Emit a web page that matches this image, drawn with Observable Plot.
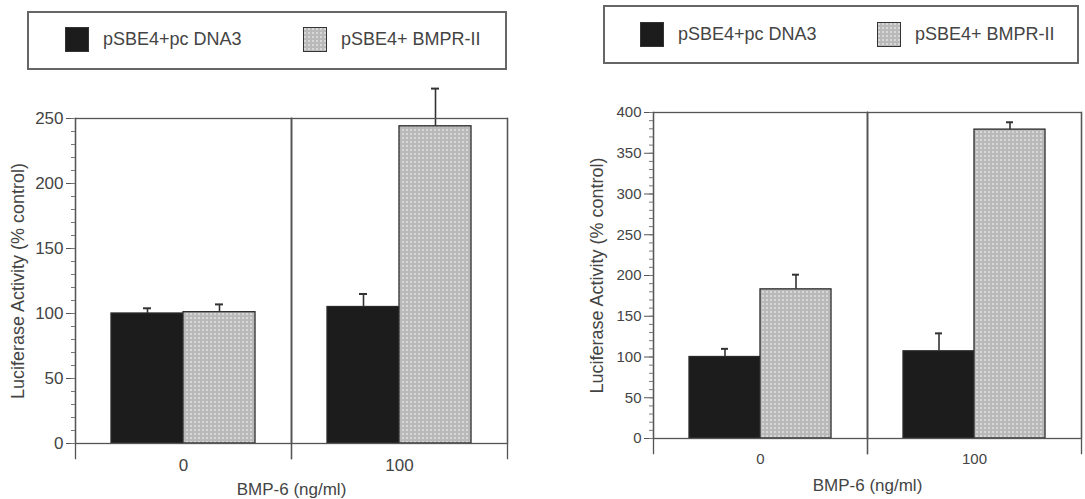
<!DOCTYPE html>
<html>
<head>
<meta charset="utf-8">
<script src="https://cdn.jsdelivr.net/npm/d3@7"></script>
<script src="https://cdn.jsdelivr.net/npm/@observablehq/plot@0.6"></script>
<style>
  body { margin: 0; background: #fff; font-family: "Liberation Sans", Arial, sans-serif; }
  #wrap { position: relative; width: 1085px; height: 499px; overflow: hidden; background: #fff; }
  .legend { position: absolute; border: 2px solid #666; box-sizing: border-box; background: #fff; }
  .item { position: absolute; display: flex; align-items: center; height: 25px; color: #444; font-size: 18px; white-space: nowrap; }
  .panel { position: absolute; }
</style>
</head>
<body>
<svg width="0" height="0" style="position:absolute">
  <defs>
    <pattern id="dots" width="4" height="4" patternUnits="userSpaceOnUse">
      <rect width="4" height="4" fill="#b9b9b9"></rect>
      <circle cx="2" cy="2" r="1" fill="#e2e2e2"></circle>
    </pattern>
  </defs>
</svg>
<div id="wrap"></div>
<script>
// ---- data ----
const doses = ["0", "100"];
const series = ["pSBE4+pc DNA3", "pSBE4+ BMPR-II"];
const seriesColors = ["#1c1c1c", "url(#dots)"];

const leftDNA3 = [100, 105];
const leftDNA3Err = [4, 10];
const leftBMPR = [101, 244];
const leftBMPRErr = [6, 29];

const rightDNA3 = [100, 107];
const rightDNA3Err = [10, 22];
const rightBMPR = [183, 379];
const rightBMPRErr = [18, 9];

const leftTicks = [0, 50, 100, 150, 200, 250];
const rightTicks = [0, 50, 100, 150, 200, 250, 300, 350, 400];
const yTitle = "Luciferase Activity (% control)";
const xTitle = "BMP-6 (ng/ml)";

function rowsFrom(a, aErr, b, bErr) {
  const rows = [];
  doses.forEach((dose, i) => {
    rows.push({dose, series: series[0], value: a[i], err: aErr[i]});
    rows.push({dose, series: series[1], value: b[i], err: bErr[i]});
  });
  return rows;
}

function panel(o) {
  const yMax = o.ticks[o.ticks.length - 1];
  const minor = d3.range(0, yMax + 1, 10);
  const svg = Plot.plot({
    width: o.width, height: o.height,
    marginLeft: o.ml, marginRight: o.mr, marginTop: o.mt, marginBottom: o.mb,
    style: {fontFamily: "Liberation Sans, Arial, sans-serif", color: "#444", background: "transparent", overflow: "visible"},
    fx: {domain: doses, padding: 0},
    x: {domain: series, paddingInner: 0, paddingOuter: 0.5, axis: null},
    y: {domain: [0, yMax]},
    color: {domain: series, range: seriesColors},
    marks: [
      Plot.barY(o.rows, {fx: "dose", x: "series", y: "value", fill: "series", stroke: "#2a2a2a", strokeWidth: 1.3}),
      Plot.ruleX(o.rows, {fx: "dose", x: "series", y1: "value", y2: d => d.value + d.err, stroke: "#333", strokeWidth: 1.6}),
      Plot.tickY(o.rows, {fx: "dose", x: "series", y: d => d.value + d.err, stroke: "#333", strokeWidth: 2, insetLeft: 32, insetRight: 32}),
      Plot.frame({stroke: "#555", strokeWidth: 1.3}),
      Plot.frame({anchor: "left", stroke: "#555", strokeWidth: 1.3, insetBottom: -15}),
      Plot.frame({anchor: "right", stroke: "#555", strokeWidth: 1.3, insetBottom: -15}),
      Plot.axisY(o.ticks, {tickSize: 9, tickPadding: 3, fontSize: o.tickFont, label: null, stroke: "#555"}),
      Plot.axisY(minor, {tickSize: 4, text: null, label: null, stroke: "#777"}),
      Plot.axisY({ticks: [], tickSize: 0, text: null, label: yTitle, labelAnchor: "center", labelArrow: "none", labelOffset: o.yLabelOffset, fontSize: o.yTitleFont}),
      Plot.axisFx({anchor: "bottom", tickSize: 0, tickPadding: o.xTickPad, fontSize: o.tickFont, label: null}),
      Plot.axisFx({anchor: "bottom", tickSize: 0, text: null, label: xTitle, labelAnchor: "center", labelArrow: "none", labelOffset: o.xLabelOffset, fontSize: o.xTitleFont})
    ]
  });
  svg.classList.add("panel");
  svg.style.left = o.left + "px";
  svg.style.top = o.top + "px";
  return svg;
}

function legend(o) {
  const box = document.createElement("div");
  box.className = "legend";
  Object.assign(box.style, {left: o.left + "px", top: o.top + "px", width: o.w + "px", height: o.h + "px"});
  series.forEach((s, i) => {
    const item = document.createElement("div");
    item.className = "item";
    item.style.left = o.itemX[i] + "px";
    item.style.top = o.itemY + "px";
    const sw = document.createElementNS("http://www.w3.org/2000/svg", "svg");
    sw.setAttribute("width", 24); sw.setAttribute("height", 25);
    sw.style.marginRight = "14px";
    const r = document.createElementNS("http://www.w3.org/2000/svg", "rect");
    r.setAttribute("x", 0.5); r.setAttribute("y", 0.5); r.setAttribute("width", 23); r.setAttribute("height", 24);
    r.setAttribute("fill", seriesColors[i]); r.setAttribute("stroke", "#333");
    sw.appendChild(r);
    item.appendChild(sw);
    const t = document.createElement("span");
    t.textContent = s;
    item.appendChild(t);
    box.appendChild(item);
  });
  return box;
}

const wrap = document.getElementById("wrap");
wrap.appendChild(legend({left: 27, top: 11, w: 480, h: 59, itemX: [36, 274], itemY: 14}));
wrap.appendChild(legend({left: 603, top: 5, w: 476, h: 59, itemX: [35, 272], itemY: 15}));

wrap.appendChild(panel({
  rows: rowsFrom(leftDNA3, leftDNA3Err, leftBMPR, leftBMPRErr),
  ticks: leftTicks, left: 0, top: 100, width: 520, height: 399,
  ml: 74, mr: 13, mt: 18, mb: 56,
  tickFont: 17, yTitleFont: 18, xTitleFont: 17,
  yLabelOffset: 64, xLabelOffset: 51, xTickPad: 15
}));
wrap.appendChild(panel({
  rows: rowsFrom(rightDNA3, rightDNA3Err, rightBMPR, rightBMPRErr),
  ticks: rightTicks, left: 580, top: 90, width: 505, height: 409,
  ml: 72, mr: 4, mt: 22, mb: 61,
  tickFont: 15, yTitleFont: 18, xTitleFont: 17,
  yLabelOffset: 63, xLabelOffset: 52, xTickPad: 15
}));
</script>
</body>
</html>
